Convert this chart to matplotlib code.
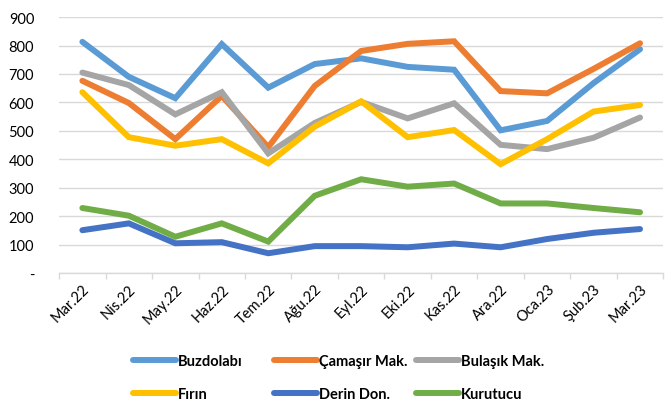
import matplotlib
matplotlib.use("Agg")
import matplotlib.pyplot as plt
from matplotlib.lines import Line2D
import numpy as np

plt.rcParams['font.family'] = ['Lato', 'DejaVu Sans']

months = ["Mar.22", "Nis.22", "May.22", "Haz.22", "Tem.22", "Ağu.22", "Eyl.22",
          "Eki.22", "Kas.22", "Ara.22", "Oca.23", "Şub.23", "Mar.23"]

buzdolabi = [813, 690, 615, 805, 652, 735, 755, 725, 715, 502, 535, 668, 787]
camasir   = [676, 598, 471, 623, 443, 658, 781, 806, 815, 640, 632, 718, 808]
bulasik   = [705, 661, 558, 636, 421, 528, 602, 544, 597, 451, 436, 476, 547]
firin     = [636, 478, 448, 471, 386, 515, 604, 478, 503, 383, 471, 568, 591]
derin     = [151, 175, 105, 109, 70, 95, 95, 91, 104, 91, 120, 142, 155]
kurutucu  = [229, 202, 128, 175, 111, 272, 330, 304, 315, 245, 245, 229, 214]

series = [
    ("Buzdolabı", buzdolabi, "#5B9BD5"),
    ("Çamaşır Mak.", camasir, "#ED7D31"),
    ("Bulaşık Mak.", bulasik, "#A5A5A5"),
    ("Fırın", firin, "#FFC000"),
    ("Derin Don.", derin, "#4472C4"),
    ("Kurutucu", kurutucu, "#70AD47"),
]

yticks = [0, 100, 200, 300, 400, 500, 600, 700, 800, 900]
ytick_labels = ["-", "100", "200", "300", "400", "500", "600", "700", "800", "900"]

fig = plt.figure(figsize=(6.72, 4.02), dpi=100)
ax = fig.add_axes([0.088, 0.318, 0.899, 0.637])

x = np.arange(len(months))
for name, vals, col in series:
    ax.plot(x, vals, color=col, lw=4.3, solid_capstyle='round',
            solid_joinstyle='miter', label=name, zorder=3)

ax.set_xlim(-0.5, len(months) - 0.5)
ax.set_ylim(0, 900)
ax.set_yticks(yticks)
ax.set_yticklabels(ytick_labels)
ax.yaxis.grid(True, color="#D9D9D9", lw=1.0)
ax.set_axisbelow(True)
for s in ["top", "right", "left"]:
    ax.spines[s].set_visible(False)
ax.spines["bottom"].set_color("#D9D9D9")
ax.spines["bottom"].set_linewidth(1.0)
ax.tick_params(axis='y', length=0, pad=18, labelsize=10.5, labelcolor="#000000")

ax.set_xticks(x)
ax.set_xticklabels(months, rotation=45, ha='right', va='top', rotation_mode='anchor',
                   fontsize=10.5)
ax.tick_params(axis='x', which='major', length=0, pad=6)
ax.set_xticks(np.arange(-0.5, len(months), 1.0), minor=True)
ax.tick_params(axis='x', which='minor', length=4, color="#D9D9D9", width=1.0)

# legend: three columns, each its own legend
cols = [(0, 3), (1, 4), (2, 5)]
xs = [132 / 672, 273 / 672, 415 / 672]
for (i, j), xp in zip(cols, xs):
    hs = [Line2D([], [], color=series[k][2], lw=4.3, solid_capstyle='round') for k in (i, j)]
    lbs = [series[k][0] for k in (i, j)]
    fig.legend(hs, lbs, loc='upper left', bbox_to_anchor=(xp + 0.002, 1 - 355 / 402),
               frameon=False, handlelength=2.9, handletextpad=0.15,
               labelspacing=1.3, borderaxespad=0, borderpad=0,
               prop={'weight': 'bold', 'size': 10.5})

fig.savefig("out.png", dpi=100)
